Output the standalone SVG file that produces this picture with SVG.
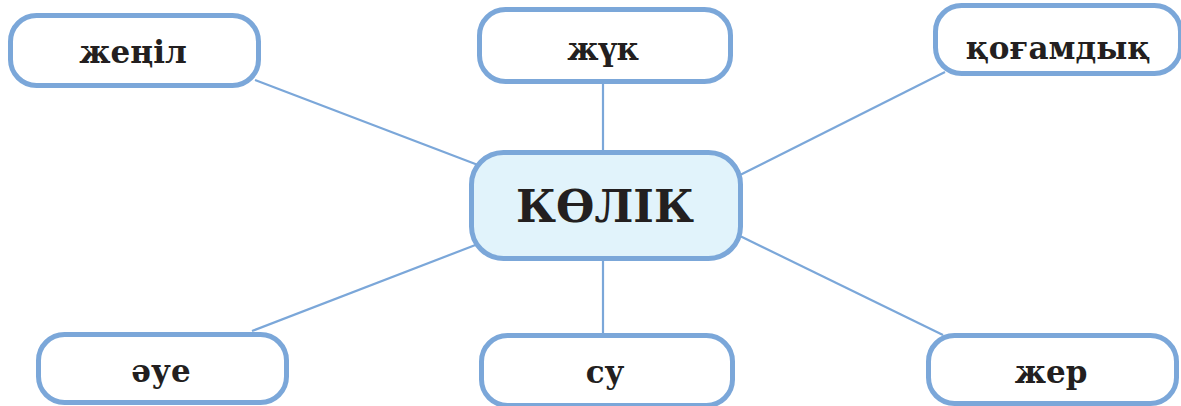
<svg xmlns="http://www.w3.org/2000/svg" width="1181" height="406" viewBox="0 0 1181 406">
<style>
.box{fill:#ffffff;stroke:#7ba7d9;stroke-width:5}
.center{fill:#e1f3fb;stroke:#7ba7d9;stroke-width:5}
.lbl{font-family:"DejaVu Serif","Liberation Serif",serif;font-weight:bold;font-size:31px;fill:#231f20;text-anchor:middle}
.big{font-family:"DejaVu Serif","Liberation Serif",serif;font-weight:bold;font-size:44px;fill:#231f20;text-anchor:middle}
.conn{stroke:#7ba7d9;stroke-width:2.2;fill:none}
</style>
<rect width="1181" height="406" fill="#ffffff"/>
<g id="connectors">
<line class="conn" x1="255" y1="80" x2="478" y2="165"/>
<line class="conn" x1="603" y1="84" x2="603" y2="150"/>
<line class="conn" x1="945" y1="72" x2="740" y2="175"/>
<line class="conn" x1="252" y1="331" x2="478" y2="244"/>
<line class="conn" x1="603" y1="260" x2="603" y2="334"/>
<line class="conn" x1="943" y1="335" x2="740" y2="236"/>
</g>
<g id="node-zhenil">
<rect class="box" x="10.5" y="15.5" width="248" height="70" rx="26"/>
<text class="lbl" x="133" y="63">жеңіл</text>
</g>
<g id="node-zhuk">
<rect class="box" x="479.5" y="9.5" width="251" height="72" rx="26"/>
<text class="lbl" x="603" y="60">жүк</text>
</g>
<g id="node-qogamdyq">
<rect class="box" x="935.5" y="5.5" width="245" height="68" rx="26"/>
<text class="lbl" x="1058" y="59">қоғамдық</text>
</g>
<g id="node-kolik">
<rect class="center" x="471.5" y="152.5" width="269" height="106" rx="32"/>
<text class="big" x="605" y="222">КӨЛІК</text>
</g>
<g id="node-aue">
<rect class="box" x="38.5" y="334.5" width="248" height="68" rx="26"/>
<text class="lbl" x="161" y="382">әуе</text>
</g>
<g id="node-su">
<rect class="box" x="481.5" y="335.5" width="251" height="70" rx="26"/>
<text class="lbl" x="605" y="383">су</text>
</g>
<g id="node-zher">
<rect class="box" x="928.5" y="335.5" width="248" height="68" rx="26"/>
<text class="lbl" x="1051" y="383">жер</text>
</g>
</svg>
